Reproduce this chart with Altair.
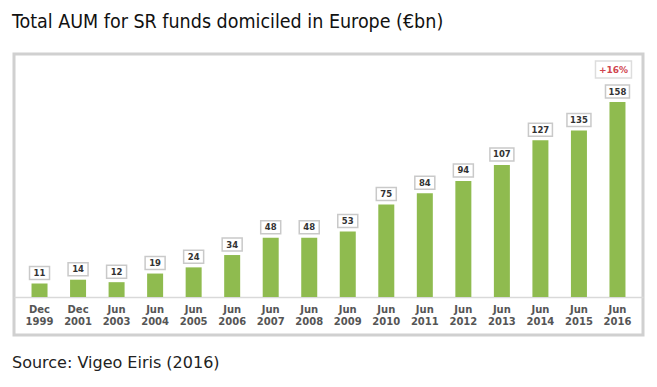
import altair as alt
import pandas as pd

periods = ["Dec 1999", "Dec 2001", "Jun 2003", "Jun 2004", "Jun 2005", "Jun 2006",
           "Jun 2007", "Jun 2008", "Jun 2009", "Jun 2010", "Jun 2011", "Jun 2012",
           "Jun 2013", "Jun 2014", "Jun 2015", "Jun 2016"]
aum = [11, 14, 12, 19, 24, 34, 48, 48, 53, 75, 84, 94, 107, 127, 135, 158]
title_text = "Total AUM for SR funds domiciled in Europe (€bn)"
source_text = "Source: Vigeo Eiris (2016)"
growth_text = "+16%"

df = pd.DataFrame({"period": periods, "aum": aum})
df["zero"] = 0

W, H = 629, 281
GREEN = "#8fbb4f"
BOXSTROKE = "#c9c9c9"

x = alt.X("period:N", sort=periods,
          scale=alt.Scale(paddingInner=0.585, paddingOuter=0.455),
          axis=alt.Axis(title=None, orient="bottom", offset=-38, domain=True,
                        domainColor="#d9d9d9", domainWidth=1.5, ticks=False,
                        labelAngle=0, labelPadding=7, labelFontSize=10, labelFont="DejaVu Sans",
                        labelFontWeight="bold", labelColor="#555555", labelLineHeight=12,
                        labelExpr="split(datum.label, ' ')"))
y = alt.Y("aum:Q", scale=alt.Scale(domain=[-30.8, 196.9], nice=False, zero=False), axis=None)

base = alt.Chart(df).encode(x=x)

bars = base.mark_bar(color=GREEN, size=16).encode(y=y, y2="zero:Q")

boxes2 = base.transform_filter("datum.aum < 100").mark_bar(
    fill="white", stroke=BOXSTROKE, strokeWidth=1.5, size=20,
    yOffset=-17, y2Offset=-4).encode(y=y, y2="aum:Q")
boxes3 = base.transform_filter("datum.aum >= 100").mark_bar(
    fill="white", stroke=BOXSTROKE, strokeWidth=1.5, size=24,
    yOffset=-17, y2Offset=-4).encode(y=y, y2="aum:Q")

labels = base.mark_text(font="DejaVu Sans", fontSize=8.5, fontWeight="bold",
                        color="#333333", dy=-10.5, baseline="middle").encode(
    y=y, text="aum:Q")

last = base.transform_filter("datum.aum >= 158")
gbox = last.mark_bar(fill="white", stroke="#dddddd", strokeWidth=1.5, size=36,
                     xOffset=-4, yOffset=-41, y2Offset=-24).encode(y=y, y2="aum:Q")
gtext = last.mark_text(font="DejaVu Sans", fontSize=9, fontWeight="bold",
                       color="#d0454f", dx=-4, dy=-32.5, baseline="middle").encode(
    y=y, text=alt.value(growth_text))

source = alt.Chart(df).transform_filter("datum.aum >= 158").mark_text(
    font="DejaVu Sans", fontSize=16, color="#222222", align="left",
    baseline="middle").encode(x=alt.value(-2), y=alt.value(H + 28),
                              text=alt.value(source_text))

chart = alt.layer(bars, boxes2, boxes3, labels, gbox, gtext, source).properties(
    width=W, height=H,
    title=alt.TitleParams(title_text, anchor="start", font="DejaVu Sans Condensed",
                          fontSize=19.5, fontWeight="normal", color="#111111",
                          offset=22),
    autosize=alt.AutoSizeParams(type="none"),
    padding={"left": 6, "top": 46, "right": 4, "bottom": 40},
).configure_view(stroke="#d0d0d0", strokeWidth=3)

chart.save("out.html", embed_options={"renderer": "svg", "actions": False})
